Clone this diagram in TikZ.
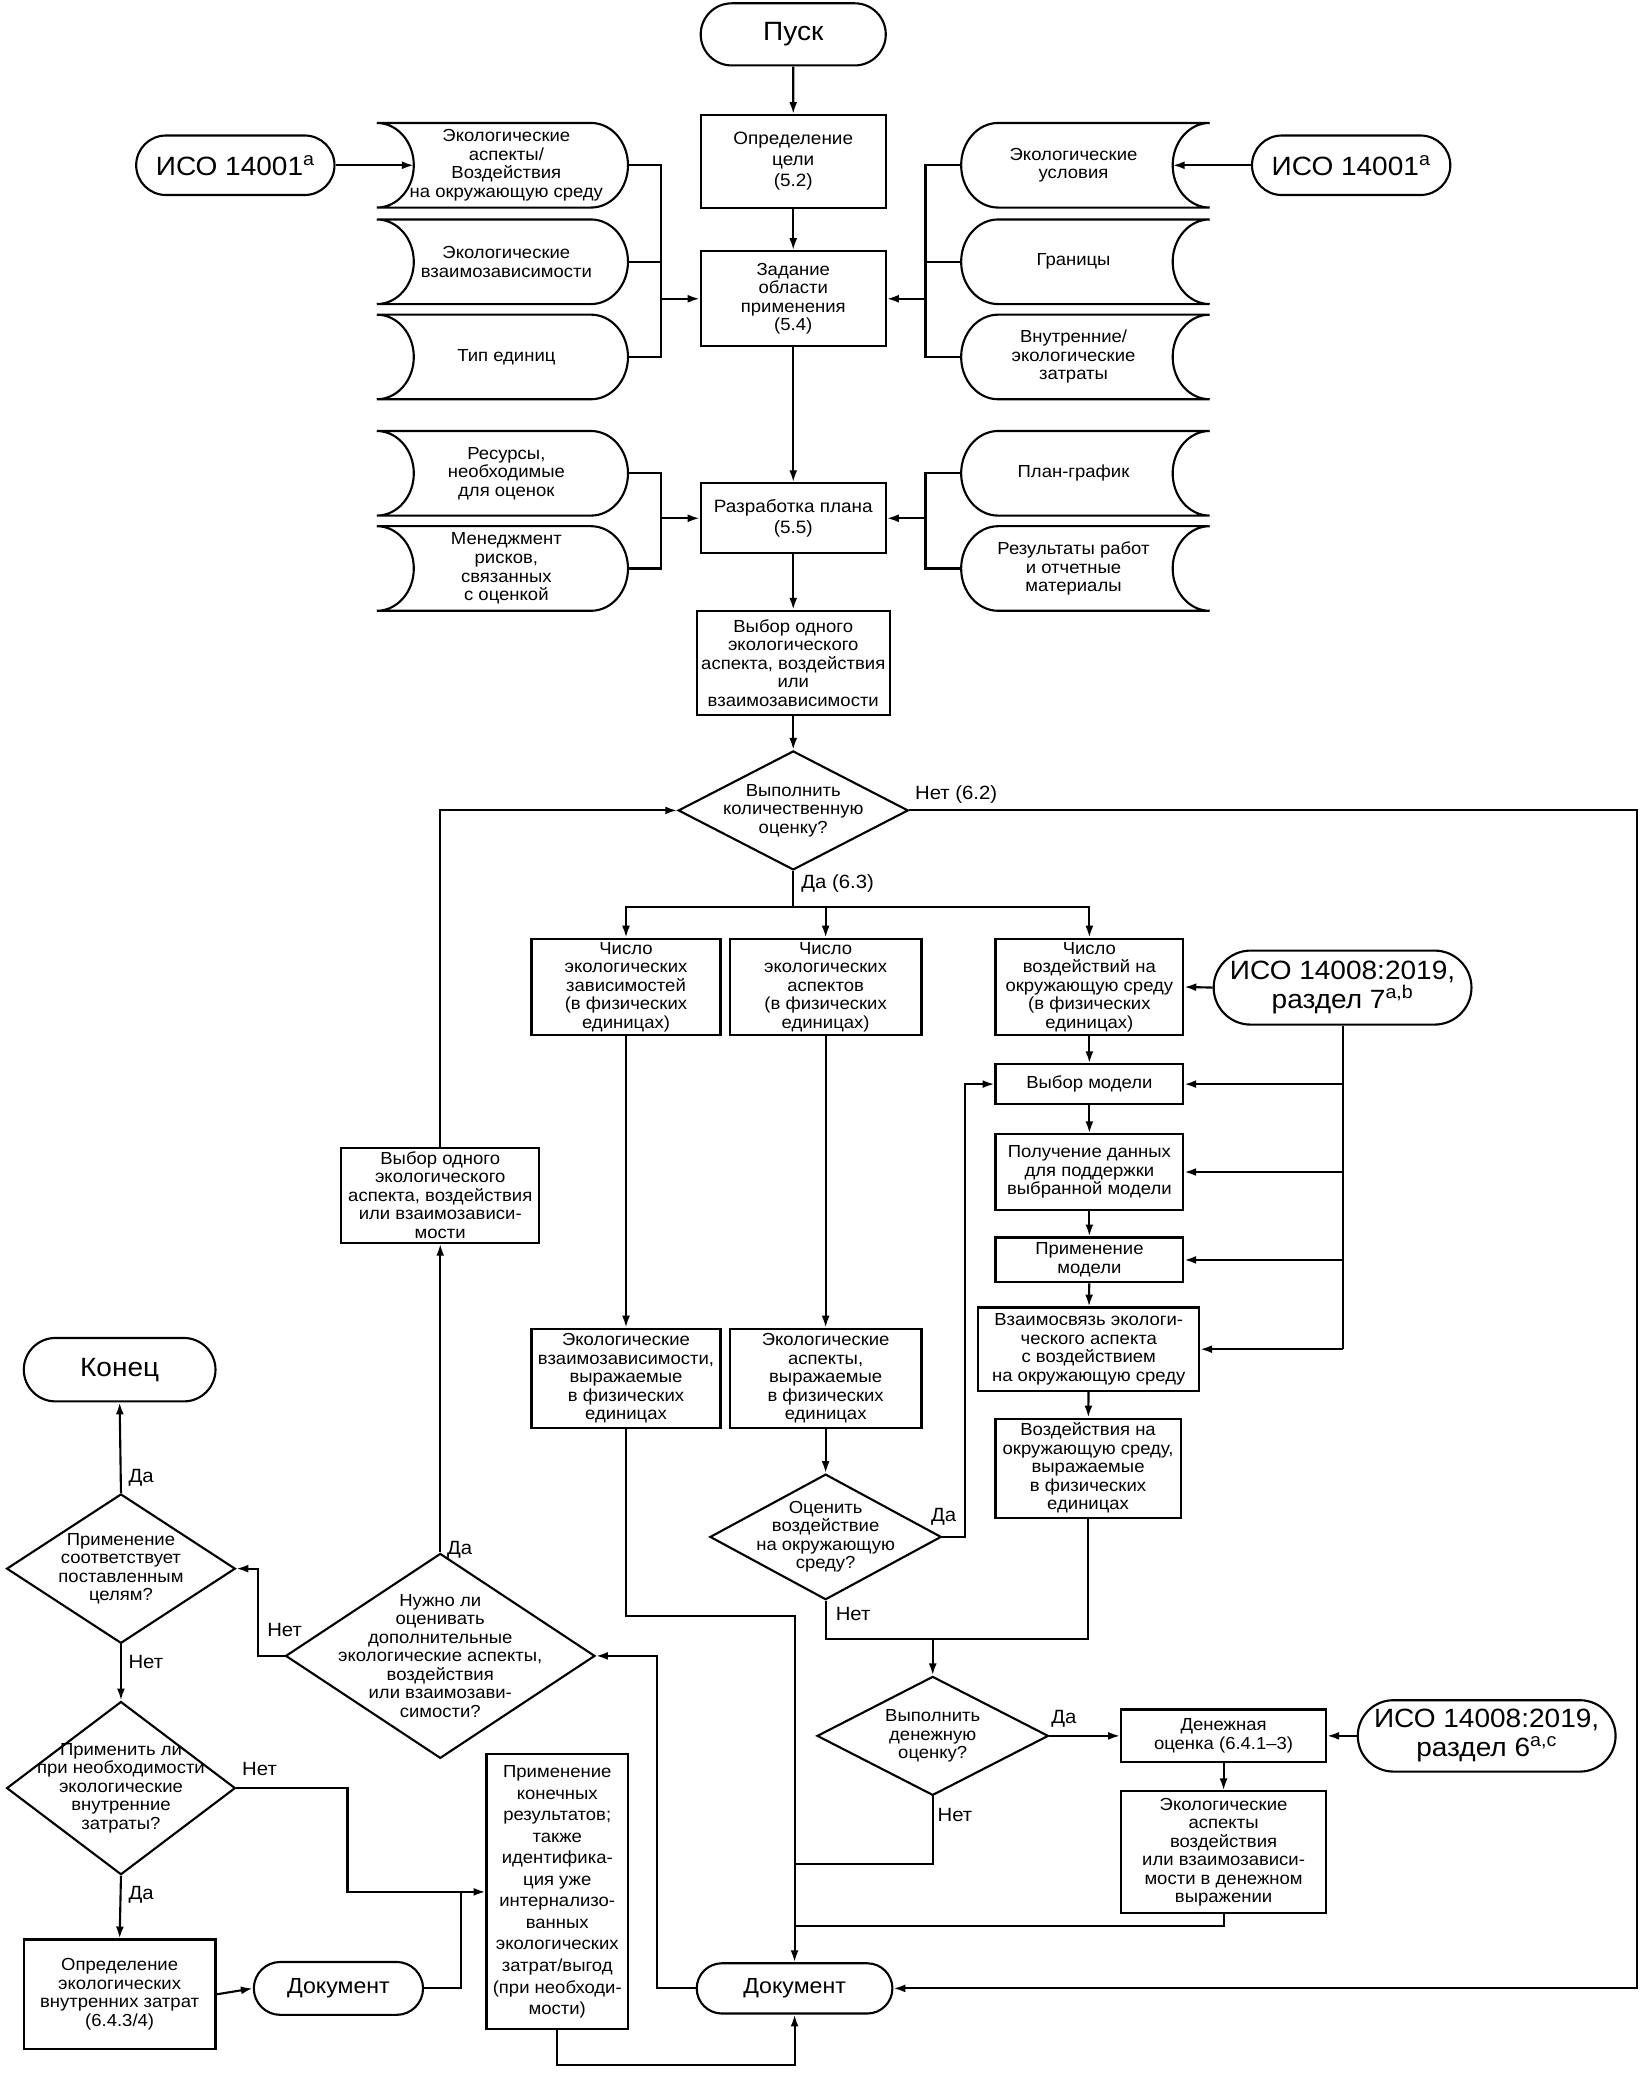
\documentclass[tikz,border=0pt]{standalone}
\usepackage{fontspec}
\setmainfont{Liberation Sans}[FakeStretch=1.06]
\usetikzlibrary{arrows.meta,shapes.misc,shapes.geometric,calc}
\newcommand\fsm{\fontsize{13.2}{14}\selectfont}
\newcommand\fmd{\fontsize{13.5}{16}\selectfont}
\newcommand\fbg{\fontsize{20}{22}\selectfont}
\newcommand\fdc{\fontsize{16.5}{18}\selectfont}
\newcommand\flb{\fontsize{14.5}{16}\selectfont}
\newcommand\sdleft[4]{%
 \pgfmathsetmacro\sdym{(#2+#4)/2}\pgfmathsetmacro\sdhh{(#4-#2)/2*0.552}%
 \draw[ln] (#1,#2) -- ({#3-28},#2) .. controls ({#3-12.5},#2) and (#3,{\sdym-\sdhh}) .. (#3,\sdym)
  .. controls (#3,{\sdym+\sdhh}) and ({#3-12.5},#4) .. ({#3-28},#4) -- (#1,#4)
  .. controls ({#1+15.5},#4) and ({#1+28},{\sdym+\sdhh}) .. ({#1+28},\sdym)
  .. controls ({#1+28},{\sdym-\sdhh}) and ({#1+15.5},#2) .. (#1,#2) -- cycle;}
\newcommand\sdright[4]{%
 \pgfmathsetmacro\sdym{(#2+#4)/2}\pgfmathsetmacro\sdhh{(#4-#2)/2*0.552}%
 \draw[ln] (#3,#2) -- ({#1+28},#2) .. controls ({#1+12.5},#2) and (#1,{\sdym-\sdhh}) .. (#1,\sdym)
  .. controls (#1,{\sdym+\sdhh}) and ({#1+12.5},#4) .. ({#1+28},#4) -- (#3,#4)
  .. controls ({#3-15.5},#4) and ({#3-28},{\sdym+\sdhh}) .. ({#3-28},\sdym)
  .. controls ({#3-28},{\sdym-\sdhh}) and ({#3-15.5},#2) .. (#3,#2) -- cycle;}
\tikzset{
 ln/.style={line width=1.6pt},
 ar/.style={ln,-{Latex[length=9pt,width=6pt]}},
 wh/.style 2 args={minimum width=#1pt,minimum height=#2pt},
 bx/.style={draw,ln,rectangle,inner sep=0pt,align=center,font=\fsm},
 tm/.style={draw,ln,rounded rectangle,inner sep=0pt,align=center},
 dc/.style={draw,ln,diamond,inner sep=0pt},
 dtx/.style={align=center,font=\fsm,inner sep=0pt},
 sdn/.style={rectangle,inner sep=0pt},
 lb/.style={font=\flb,inner sep=0pt,anchor=west},
}
\begin{document}
\begin{tikzpicture}[x=1pt,y=-1pt]
\fill[white] (0,0) rectangle (1242,1568);
\useasboundingbox (0,0) rectangle (1242,1568);

% ---------- main column ----------
\node[tm,wh={140}{47},font=\fbg] (start) at (600,26) {Пуск};
\node[bx,wh={140}{70},font=\fmd] (goal) at (600,122) {Определение\\цели\\(5.2)};
\node[bx,wh={140}{72}] (scope) at (600,226) {Задание\\области\\применения\\(5.4)};
\node[bx,wh={140}{53},font=\fmd] (plan) at (600,392) {Разработка плана\\(5.5)};
\node[bx,wh={146}{79}] (sel1) at (600,501.5) {Выбор одного\\экологического\\аспекта, воздействия\\или\\взаимозависимости};
\node[dc,wh={174}{90},label={[dtx]center:{Выполнить\\количественную\\оценку?}}] (q1) at (600,613) {};

\draw[ar] (start) -- (goal);
\draw[ar] (goal) -- (scope);
\draw[ar] (scope) -- (plan);
\draw[ar] (plan) -- (sel1);
\draw[ar] (sel1) -- (q1);

% ---------- inputs left ----------
\sdleft{285}{93}{475}{157}
\sdleft{285}{166}{475}{230}
\sdleft{285}{238}{475}{302}
\sdleft{285}{326}{475}{390}
\sdleft{285}{398}{475}{462}
\node[sdn,wh={190}{64},label={[dtx,xshift=3pt]center:{Экологические\\аспекты/\\Воздействия\\на окружающую среду}}] (L1) at (380,125) {};
\node[sdn,wh={190}{64},label={[dtx,xshift=3pt]center:{Экологические\\взаимозависимости}}] (L2) at (380,198) {};
\node[sdn,wh={190}{64},label={[dtx,xshift=3pt]center:{Тип единиц}}] (L3) at (380,270) {};
\node[sdn,wh={190}{64},label={[dtx,xshift=3pt]center:{Ресурсы,\\необходимые\\для оценок}}] (L4) at (380,358) {};
\node[sdn,wh={190}{64},label={[dtx,xshift=3pt]center:{Менеджмент\\рисков,\\связанных\\с оценкой}}] (L5) at (380,430) {};

% ---------- inputs right ----------
\sdright{727}{93}{915}{157}
\sdright{727}{166}{915}{230}
\sdright{727}{238}{915}{302}
\sdright{727}{326}{915}{390}
\sdright{727}{398}{915}{462}
\node[sdn,wh={188}{64},label={[dtx,xshift=-9pt]center:{Экологические\\условия}}] (R1) at (821,125) {};
\node[sdn,wh={188}{64},label={[dtx,xshift=-9pt]center:{Границы}}] (R2) at (821,198) {};
\node[sdn,wh={188}{64},label={[dtx,xshift=-9pt]center:{Внутренние/\\экологические\\затраты}}] (R3) at (821,270) {};
\node[sdn,wh={188}{64},label={[dtx,xshift=-9pt]center:{План-график}}] (R4) at (821,358) {};
\node[sdn,wh={188}{64},label={[dtx,xshift=-9pt]center:{Результаты работ\\и отчетные\\материалы}}] (R5) at (821,430) {};

\coordinate (bl) at (500,0);
\coordinate (brr) at (700,0);
\draw[ln] (L1.east) -| (bl |- L3.east) -- (L3.east);
\draw[ln] (L2.east) -- (bl |- L2.east);
\draw[ar] (bl |- scope.west) -- (scope.west);
\draw[ln] (R1.west) -| (brr |- R3.west) -- (R3.west);
\draw[ln] (R2.west) -- (brr |- R2.west);
\draw[ar] (brr |- scope.east) -- (scope.east);
\draw[ln] (L4.east) -| (bl |- L5.east) -- (L5.east);
\draw[ar] (bl |- plan.west) -- (plan.west);
\draw[ln] (R4.west) -| (brr |- R5.west) -- (R5.west);
\draw[ar] (brr |- plan.east) -- (plan.east);

\node[tm,wh={150}{45},font=\fbg] (iso1) at (178,125) {ИСО 14001\textsuperscript{a}};
\node[tm,wh={150}{45},font=\fbg] (iso2) at (1022,125) {ИСО 14001\textsuperscript{a}};
\coordinate (L1c) at (313,125);
\coordinate (R1c) at (887,125);
\draw[ar] (iso1.east) -- (L1c);
\draw[ar] (iso2.west) -- (R1c);

% ---------- quantitative branch ----------
\node[lb] at (692,601) {Нет (6.2)};
\node[lb] at (606,668) {Да (6.3)};
\coordinate (brq) at (600,686);
\node[bx,wh={143}{73}] (nA) at (473.5,746.5) {Число\\экологических\\зависимостей\\(в физических\\единицах)};
\node[bx,wh={145}{73}] (nB) at (624.5,746.5) {Число\\экологических\\аспектов\\(в физических\\единицах)};
\node[bx,wh={142}{73}] (nC) at (824,746.5) {Число\\воздействий на\\окружающую среду\\(в физических\\единицах)};
\draw[ln] (q1.south) -- (brq);
\draw[ar] (brq) -| (nA.north);
\draw[ar] (brq) -| (nC.north);
\draw[ar] (brq -| nB.north) -- (nB.north);

\node[tm,wh={195}{56},font=\fbg] (iso7) at (1015.5,747) {ИСО 14008:2019,\\раздел 7\textsuperscript{a,b}};
\draw[ar] (iso7.west) -- (nC.east);

\node[bx,wh={142}{30}] (model) at (824,820) {Выбор модели};
\node[bx,wh={142}{57}] (data) at (824,886.5) {Получение данных\\для поддержки\\выбранной модели};
\node[bx,wh={142}{34}] (apply) at (824,953) {Применение\\модели};
\node[bx,wh={167}{63}] (link) at (823.5,1020.5) {Взаимосвязь экологи-\\ческого аспекта\\с воздействием\\на окружающую среду};
\node[bx,wh={140}{75}] (impact) at (823,1110.5) {Воздействия на\\окружающую среду,\\выражаемые\\в физических\\единицах};
\draw[ar] (nC) -- (model);
\draw[ar] (model) -- (data);
\draw[ar] (data) -- (apply);
\draw[ar] (apply) -- (link);
\draw[ar] (link) -- (impact);
\draw[ln] (iso7.south) -- (iso7.south |- link.east);
\draw[ar] (iso7.south |- model.east) -- (model.east);
\draw[ar] (iso7.south |- data.east) -- (data.east);
\draw[ar] (iso7.south |- apply.east) -- (apply.east);
\draw[ar] (iso7.south |- link.east) -- (link.east);

\node[bx,wh={143}{75}] (A2) at (473.5,1042.5) {Экологические\\взаимозависимости,\\выражаемые\\в физических\\единицах};
\node[bx,wh={145}{75}] (B2) at (624.5,1042.5) {Экологические\\аспекты,\\выражаемые\\в физических\\единицах};
\draw[ar] (nA) -- (A2);
\draw[ar] (nB) -- (B2);

\node[dc,wh={175}{95},label={[dtx]center:{Оценить\\воздействие\\на окружающую\\среду?}}] (q2) at (624.5,1162.5) {};
\draw[ar] (B2) -- (q2);
\draw[ar] (q2.east) -- ++(17,0) |- (model.west);
\node[lb] at (704,1147) {Да};
\node[lb] at (632,1221) {Нет};
\coordinate (j1) at (0,1240);
\draw[ln] (q2.south) -- (q2.south |- j1) -- (impact.south |- j1) -- (impact.south);

\node[dc,wh={175}{90},label={[dtx]center:{Выполнить\\денежную\\оценку?}}] (q3) at (705.5,1313) {};
\draw[ar] (q3.north |- j1) -- (q3.north);
\node[lb] at (795,1300) {Да};
\node[lb] at (709,1373) {Нет};

\node[bx,wh={155}{40}] (money) at (925.5,1313) {Денежная\\оценка (6.4.1--3)};
\node[tm,wh={195}{54},font=\fbg] (iso6) at (1124.5,1313) {ИСО 14008:2019,\\раздел 6\textsuperscript{a,c}};
\node[bx,wh={155}{92}] (mres) at (925.5,1401) {Экологические\\аспекты\\воздействия\\или взаимозависи-\\мости в денежном\\выражении};
\draw[ar] (q3.east) -- (money.west);
\draw[ar] (iso6.west) -- (money.east);
\draw[ar] (money) -- (mres);

% ---------- document ----------
\node[tm,wh={148}{38},font=\fdc] (doc) at (601,1504) {Документ};
\draw[ar] (A2.south) -- (A2.south |- 0,1222) -| (doc.north);
\draw[ln] (q3.south) |- (doc.north |- 0,1410);
\draw[ln] (mres.south) -- (mres.south |- 0,1457) -- (doc.north |- 0,1457);
\coordinate (rr) at (1238,0);
\draw[ar] (q1.east) -- (q1.east -| rr) |- (doc.east);

% ---------- left loop ----------
\node[dc,wh={234}{155},label={[dtx]center:{Нужно ли\\оценивать\\дополнительные\\экологические аспекты,\\воздействия\\или взаимозави-\\симости?}}] (q4) at (333,1252.5) {};
\node[bx,wh={150}{72}] (sel2) at (333,904) {Выбор одного\\экологического\\аспекта, воздействия\\или взаимозависи-\\мости};
\draw[ar] (doc.west) -- ++(-29,0) |- (q4.east);
\draw[ar] (q4.north) -- (sel2.south);
\draw[ar] (sel2.north) |- (q1.west);
\node[lb] at (338,1172) {Да};
\node[lb] at (202,1233) {Нет};

\node[dc,wh={173}{113},label={[dtx]center:{Применение\\соответствует\\поставленным\\целям?}}] (q5) at (91.5,1186.5) {};
\node[tm,wh={145}{48},font=\fbg] (endn) at (90.5,1036) {Конец};
\draw[ar] (q4.west) -- ++(-20,0) |- (q5.east);
\draw[ar] (q5.north) -- (endn.south);
\node[lb] at (97,1118) {Да};
\node[lb] at (97,1257) {Нет};

\node[dc,wh={173}{131},label={[dtx]center:{Применить ли\\при необходимости\\экологические\\внутренние\\затраты?}}] (q6) at (91.5,1352.5) {};
\draw[ar] (q5.south) -- (q6.north);
\node[lb] at (183,1338) {Нет};
\node[lb] at (97,1433) {Да};

\node[bx,wh={145}{83}] (intern) at (90.5,1508.5) {Определение\\экологических\\внутренних затрат\\(6.4.3/4)};
\node[tm,wh={128}{40},font=\fdc] (doc2) at (256,1504) {Документ};
\node[bx,wh={107}{208},font=\fontsize{13.2}{16.3}\selectfont] (final) at (421.5,1431) {Применение\\конечных\\результатов;\\также\\идентифика-\\ция уже\\интернализо-\\ванных\\экологических\\затрат/выгод\\(при необходи-\\мости)};
\draw[ar] (q6.south) -- (intern.north);
\draw[ar] (intern.east) -- (doc2.west);
\draw[ar] (q6.east) -- ++(84,0) |- (final.west);
\draw[ln] (doc2.east) -- ++(28,0) |- ($(final.west)+(-10,0)$);
\draw[ar] (final.south) -- (final.south |- 0,1562) -| (doc.south);
\end{tikzpicture}
\end{document}
